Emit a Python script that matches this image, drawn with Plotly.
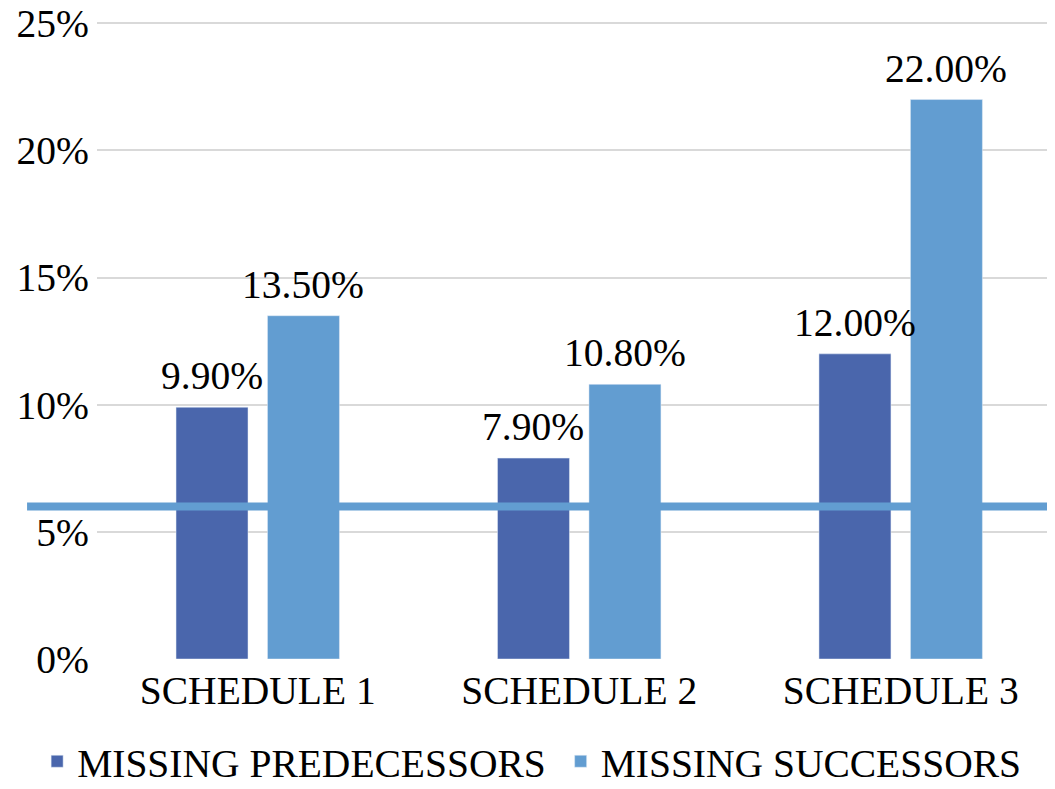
import plotly.graph_objects as go

categories = ["SCHEDULE 1", "SCHEDULE 2", "SCHEDULE 3"]
predecessors = [9.9, 7.9, 12.0]
successors = [13.5, 10.8, 22.0]
series_names = ["MISSING PREDECESSORS", "MISSING SUCCESSORS"]
threshold = 6.0
y_ticks = [0, 5, 10, 15, 20, 25]
y_tick_labels = ["0%", "5%", "10%", "15%", "20%", "25%"]

FONT = "Liberation Serif, Times New Roman, serif"
FS = 39.5
DARK = "#4a66ac"
LIGHT = "#629dd1"

W, H = 1047, 781
ML, MT, MB, MR = 89, 14, 130, 0
XR = [-0.5, 2.48]
BARGAP, GROUPGAP = 0.431, 0.213

fig = go.Figure()
series = [(series_names[0], predecessors, DARK), (series_names[1], successors, LIGHT)]
for i, (name, vals, col) in enumerate(series):
    label = name + ("\u00a0" if i == 0 else "")
    fig.add_trace(go.Bar(
        x=categories, y=vals, name=label, marker_color=col,
    ))

# data labels above bars (offset by half a group slot, from layout settings)
px_per_cat = (W - ML - MR) / (XR[1] - XR[0])
slot = px_per_cat * (1 - BARGAP) / len(series)
for i, (name, vals, col) in enumerate(series):
    shift = (i - (len(series) - 1) / 2) * slot
    for c, v in zip(categories, vals):
        fig.add_annotation(x=c, y=v, text=f"{v:.2f}%", showarrow=False,
                           xanchor="center", yanchor="bottom", xshift=shift, yshift=7,
                           font=dict(family=FONT, size=FS, color="black"))

fig.add_shape(type="line", xref="paper", yref="y", x0=-0.073, x1=1.0,
              y0=threshold, y1=threshold, line=dict(color=LIGHT, width=8), layer="above")

fig.update_layout(
    width=W, height=H,
    margin=dict(l=ML, r=MR, t=MT, b=MB, autoexpand=False),
    paper_bgcolor="white", plot_bgcolor="white",
    barmode="group", bargap=BARGAP, bargroupgap=GROUPGAP,
    font=dict(family=FONT, size=FS, color="black"),
    showlegend=True,
    legend=dict(orientation="h", x=-0.0625, xanchor="left", y=-0.11, yanchor="top",
                font=dict(family=FONT, size=FS, color="black"),
                bgcolor="rgba(0,0,0,0)"),
    xaxis=dict(range=XR, showgrid=False, showline=False, ticks="",
               automargin=False, ticklabelstandoff=4,
               tickfont=dict(family=FONT, size=FS, color="black")),
    yaxis=dict(range=[0, 25.05], tickvals=y_ticks, ticktext=y_tick_labels,
               showgrid=True, gridcolor="#d9d9d9", gridwidth=2, zeroline=False,
               showline=False, ticks="", automargin=False, ticklabelstandoff=7,
               ticklabeloverflow="allow",
               tickfont=dict(family=FONT, size=FS, color="black")),
)

fig.write_html("out.html")
